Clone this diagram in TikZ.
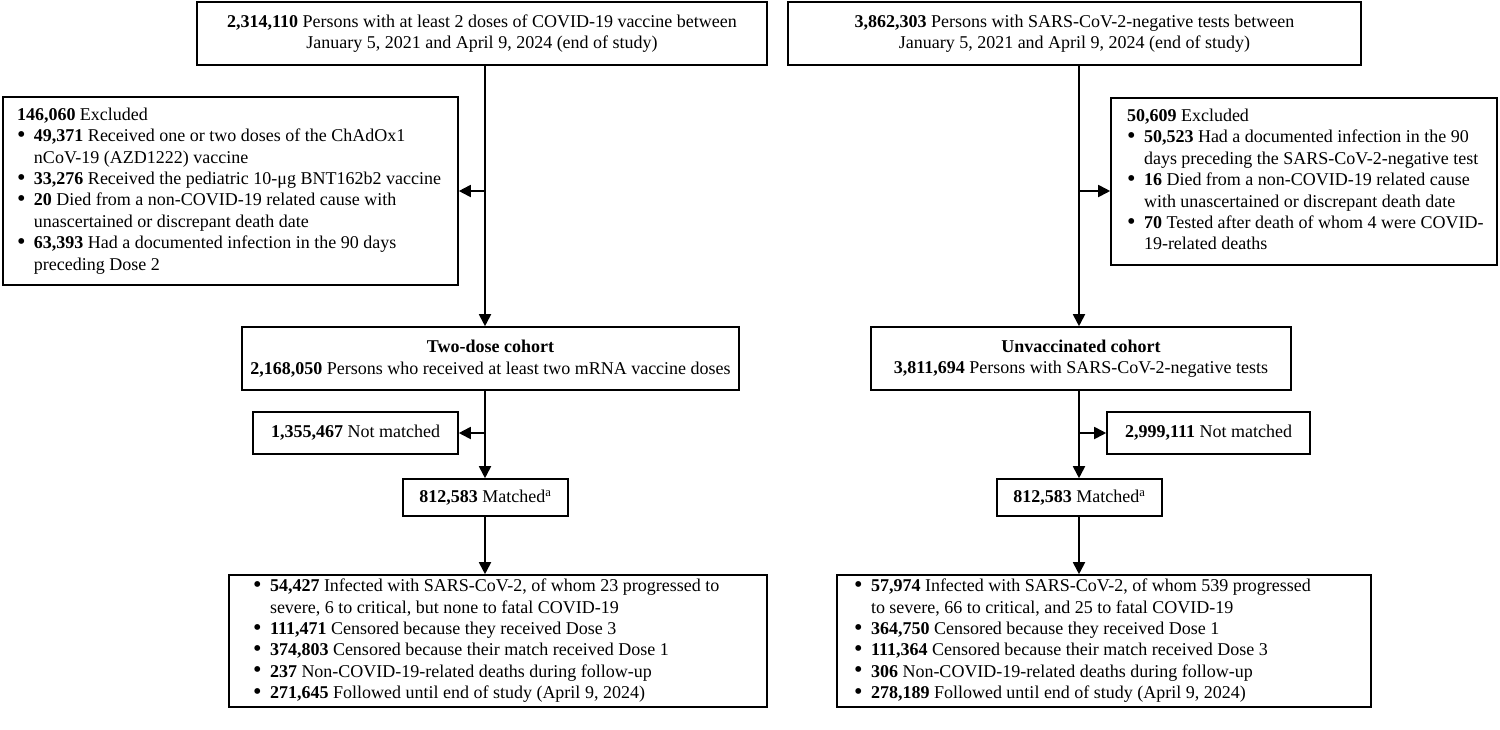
\documentclass[tikz,border=0pt]{standalone}
\usepackage{fontspec}
\usepackage{graphicx}
\setmainfont{Liberation Serif}
\usetikzlibrary{arrows.meta}
\newcommand\fs{\fontsize{18}{21.4}\selectfont}
\tikzset{
  x=1pt, y=-1pt,
  box/.style={draw, line width=1.6pt, inner sep=0pt, font=\fs},
  arr/.style={line width=1.8pt, -{Triangle[length=12pt,width=12pt]}},
}
% name, x1, y1, x2, y2, content
\newcommand\mybox[6]{%
  \node[box, minimum width={#4-#2}, minimum height={#5-#3}, align=center]
    (#1) at ({(#2+#4)/2},{(#3+#5)/2}) {#6};}
% width, left pad, content
\newcommand\lpad[3]{\makebox[#1pt][l]{\hspace*{#2pt}#3}}
\newcommand\bul{\raisebox{-0.6pt}{\scalebox{1.35}{\textbullet}}}
\newenvironment{blist}{\renewcommand\arraystretch{1}\begin{tabular}{@{}p{17pt}@{}l@{}}}{\end{tabular}}
\newcommand\hd[1]{\multicolumn{2}{@{}l@{}}{#1}}
\begin{document}
\begin{tikzpicture}
\useasboundingbox (0,0) rectangle (1500,729);

% ---------- left column ----------
\mybox{a1}{197}{2}{767}{65}{\textbf{2,314,110} Persons with at least 2 doses of COVID-19 vaccine between\\January 5, 2021 and April 9, 2024 (end of study)}
\mybox{e1}{3}{97}{458}{285}{\lpad{455}{14}{\begin{blist}
\hd{\textbf{146,060} Excluded}\\
\bul & \textbf{49,371} Received one or two doses of the ChAdOx1\\
 & nCoV-19 (AZD1222) vaccine\\
\bul & \textbf{33,276} Received the pediatric 10-μg BNT162b2 vaccine\\
\bul & \textbf{20} Died from a non-COVID-19 related cause with\\
 & unascertained or discrepant death date\\
\bul & \textbf{63,393} Had a documented infection in the 90 days\\
 & preceding Dose 2
\end{blist}}}
\mybox{c1}{242}{327}{739}{390}{\textbf{Two-dose cohort}\\\textbf{2,168,050} Persons who received at least two mRNA vaccine doses}
\mybox{n1}{253}{412}{458}{454}{\textbf{1,355,467} Not matched}
\mybox{m1}{403}{479}{568}{516}{\textbf{812,583} Matched\textsuperscript{a}}
\mybox{b1}{229}{575}{767}{707}{\lpad{538}{24}{\begin{blist}
\bul & \textbf{54,427} Infected with SARS-CoV-2, of whom 23 progressed to\\
 & severe, 6 to critical, but none to fatal COVID-19\\
\bul & \textbf{111,471} Censored because they received Dose 3\\
\bul & \textbf{374,803} Censored because their match received Dose 1\\
\bul & \textbf{237} Non-COVID-19-related deaths during follow-up\\
\bul & \textbf{271,645} Followed until end of study (April 9, 2024)
\end{blist}}}

% ---------- right column ----------
\mybox{a2}{788}{2}{1361}{65}{\textbf{3,862,303} Persons with SARS-CoV-2-negative tests between\\January 5, 2021 and April 9, 2024 (end of study)}
\mybox{e2}{1111}{98}{1497}{265}{\lpad{386}{16}{\begin{blist}
\hd{\textbf{50,609} Excluded}\\
\bul & \textbf{50,523} Had a documented infection in the 90\\
 & days preceding the SARS-CoV-2-negative test\\
\bul & \textbf{16} Died from a non-COVID-19 related cause\\
 & with unascertained or discrepant death date\\
\bul & \textbf{70} Tested after death of whom 4 were COVID-\\
 & 19-related deaths
\end{blist}}}
\mybox{c2}{871}{327}{1291}{390}{\textbf{Unvaccinated cohort}\\\textbf{3,811,694} Persons with SARS-CoV-2-negative tests}
\mybox{n2}{1107}{412}{1310}{454}{\textbf{2,999,111} Not matched}
\mybox{m2}{997}{479}{1162}{516}{\textbf{812,583} Matched\textsuperscript{a}}
\mybox{b2}{837}{575}{1371}{707}{\lpad{534}{17}{\begin{blist}
\bul & \textbf{57,974} Infected with SARS-CoV-2, of whom 539 progressed\\
 & to severe, 66 to critical, and 25 to fatal COVID-19\\
\bul & \textbf{364,750} Censored because they received Dose 1\\
\bul & \textbf{111,364} Censored because their match received Dose 3\\
\bul & \textbf{306} Non-COVID-19-related deaths during follow-up\\
\bul & \textbf{278,189} Followed until end of study (April 9, 2024)
\end{blist}}}

% ---------- connectors ----------
\coordinate (L) at (485,0);
\coordinate (R) at (1079,0);
\coordinate (Le) at (485,191);
\coordinate (Ln) at (485,433);
\coordinate (Re) at (1079,191);
\coordinate (Rn) at (1079,433);

\draw[arr] (a1.south -| L) -- (c1.north -| L);
\draw[arr] (Le) -- (Le -| e1.east);
\draw[arr] (c1.south -| L) -- (m1.north -| L);
\draw[arr] (Ln) -- (Ln -| n1.east);
\draw[arr] (m1.south -| L) -- (b1.north -| L);

\draw[arr] (a2.south -| R) -- (c2.north -| R);
\draw[arr] (Re) -- (Re -| e2.west);
\draw[arr] (c2.south -| R) -- (m2.north -| R);
\draw[arr] (Rn) -- (Rn -| n2.west);
\draw[arr] (m2.south -| R) -- (b2.north -| R);
\end{tikzpicture}
\end{document}
